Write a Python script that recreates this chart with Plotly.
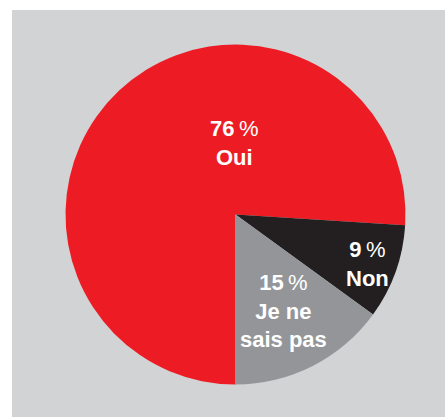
import plotly.graph_objects as go

labels = ["Oui", "Non", "Je ne sais pas"]
values = [76, 9, 15]
label_lines = ["Oui", "Non", "Je ne<br>sais pas"]
colors = ["#ED1C24", "#231F20", "#939598"]

W, H = 445, 417
cx, cy, r = 235.5, 214.5, 170

fig = go.Figure()
fig.add_trace(go.Pie(
    labels=labels, values=values, sort=False, direction="clockwise",
    rotation=180, textinfo="none", hoverinfo="label+percent",
    marker=dict(colors=colors, line=dict(width=0)),
    domain=dict(x=[(cx - r) / W, (cx + r) / W], y=[(H - cy - r) / H, (H - cy + r) / H]),
    showlegend=False,
))

# label anchor positions (pixels)
label_pos = [(234, 143), (367, 264), (283, 311)]
for v, t, (px, py) in zip(values, label_lines, label_pos):
    txt = f"<b>{v}</b>\u2009%<br><b>{t}</b>"
    fig.add_annotation(
        x=px / W, y=1 - py / H, xref="paper", yref="paper",
        text=txt, showarrow=False, xanchor="center", yanchor="middle",
        align="center",
        font=dict(family="Liberation Sans, Arial, sans-serif", size=22, color="white"),
    )

fig.update_layout(
    width=W, height=H, margin=dict(l=0, r=0, t=0, b=0),
    paper_bgcolor="white",
    shapes=[dict(type="rect", xref="paper", yref="paper", x0=12 / W, x1=1, y0=0, y1=1 - 10 / H,
                 fillcolor="#D1D3D4", line=dict(width=0), layer="below")],
)

fig.write_html("out.html")
